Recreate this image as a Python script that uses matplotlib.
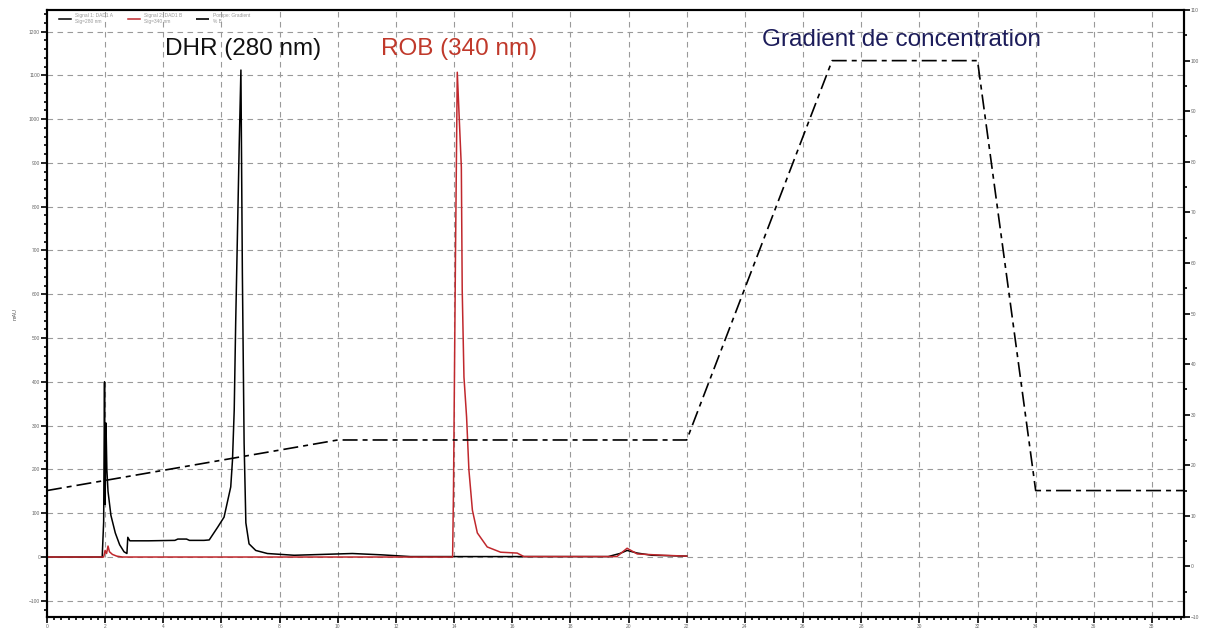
import matplotlib
matplotlib.use("Agg")
import matplotlib.pyplot as plt
from matplotlib.ticker import MultipleLocator

plt.rcParams['font.family'] = ['Liberation Sans', 'DejaVu Sans']

# DHR trace, 280 nm (time in min, absorbance in mAU)
dhr_t = [0, 1.9, 1.95, 1.98, 2.0, 2.03, 2.06, 2.1, 2.2, 2.35, 2.5, 2.65, 2.75,
         2.78, 2.85, 3.5, 4.4, 4.5, 4.8, 4.9, 5.4, 5.58, 5.87, 6.09, 6.32,
         6.38, 6.44, 6.49, 6.61, 6.67, 6.72, 6.78, 6.84, 6.95, 7.18, 7.58,
         8.5, 9.5, 10.5, 11.5, 12.5, 19.3, 19.7, 19.95, 20.3, 20.8, 22.0]
dhr_v = [0, 0, 80, 400, 120, 306, 200, 150, 95, 55, 28, 12, 8,
         45, 37, 37, 38, 41, 41, 38, 38, 39, 68, 91, 160,
         221, 336, 534, 936, 1112, 648, 260, 78, 30, 15, 8,
         4, 6, 8, 5, 1, 1, 8, 15, 9, 4, 2]

# ROB trace, 340 nm
rob_t = [0, 1.95, 2.0, 2.05, 2.1, 2.15, 2.25, 2.4, 2.6, 13.95, 13.98, 14.05,
         14.11, 14.25, 14.28, 14.34, 14.43, 14.51, 14.63, 14.8, 15.14, 15.6,
         16.17, 16.4, 19.6, 19.95, 20.3, 21.2, 22.0]
rob_v = [0, 0, 15, 8, 25, 12, 6, 2, 0, 0, 153, 700,
         1107, 890, 610, 411, 320, 199, 107, 55, 23, 11,
         9, 1, 1, 20, 7, 4, 2]

# solvent gradient (% B)
grad_t = [0, 10, 22, 27, 32, 34, 39.1]
grad_v = [15, 25, 25, 100, 100, 15, 15]

fig = plt.figure(figsize=(12.1, 6.28), dpi=100)
ax = fig.add_axes([0.0388, 0.0175, 0.9397, 0.9665])
ax2 = ax.twinx()

ax.plot(dhr_t, dhr_v, color='black', lw=1.1, label='Signal 1: DAD1 A\nSig=280 nm', zorder=3)
ax.plot(rob_t, rob_v, color='#c0282d', lw=1.1, label='Signal 2: DAD1 B\nSig=340 nm', zorder=3)
ax2.plot(grad_t, grad_v, color='black', lw=1.2, ls=(0, (9, 3, 3, 3)), zorder=3)
ax.plot([], [], color='black', lw=1.2, ls=(0, (9, 3, 3, 3)), label='Pompe: Gradient\n% B')

ax.set_xlim(0, 39.1)
ax.set_ylim(-137, 1249)
ax2.set_ylim(-10, 110)

ax.xaxis.set_major_locator(MultipleLocator(2))
ax.xaxis.set_minor_locator(MultipleLocator(0.25))
ax.yaxis.set_major_locator(MultipleLocator(100))
ax.yaxis.set_minor_locator(MultipleLocator(20))
ax2.yaxis.set_major_locator(MultipleLocator(10))
ax2.yaxis.set_minor_locator(MultipleLocator(5))

ax.grid(True, which='major', color='#9a9a9a', ls=(0, (5, 4)), lw=0.8)
ax.tick_params(which='both', labelsize=3.5, labelcolor='#666666', width=1.2)
ax.tick_params(which='major', length=4)
ax.tick_params(which='minor', length=2.5)
ax.tick_params(axis='x', pad=1)
ax.tick_params(axis='y', pad=1)
ax2.tick_params(which='both', labelsize=3.5, labelcolor='#666666', width=1.2, pad=1)
ax2.tick_params(which='major', length=4)
ax2.tick_params(which='minor', length=2.5)
for sp in list(ax.spines.values()) + list(ax2.spines.values()):
    sp.set_linewidth(1.5)

ax.set_ylabel('mAU', fontsize=4, color='#555555', labelpad=8)

ax.text(0.104, 0.936, 'DHR (280 nm)', transform=ax.transAxes, fontsize=17.5,
        color='#111111', va='center')
ax.text(0.294, 0.936, 'ROB (340 nm)', transform=ax.transAxes, fontsize=17.5,
        color='#c0392b', va='center')
ax.text(0.629, 0.951, 'Gradient de concentration', transform=ax.transAxes, fontsize=17.5,
        color='#1c1c5a', va='center')

leg = ax.legend(loc='upper left', ncol=3, fontsize=3.5, frameon=False, handlelength=2.5,
                borderaxespad=0.2, columnspacing=3, bbox_to_anchor=(0.008, 1.0))
for txt in leg.get_texts():
    txt.set_color('#999999')

fig.savefig('out.png', dpi=100)
